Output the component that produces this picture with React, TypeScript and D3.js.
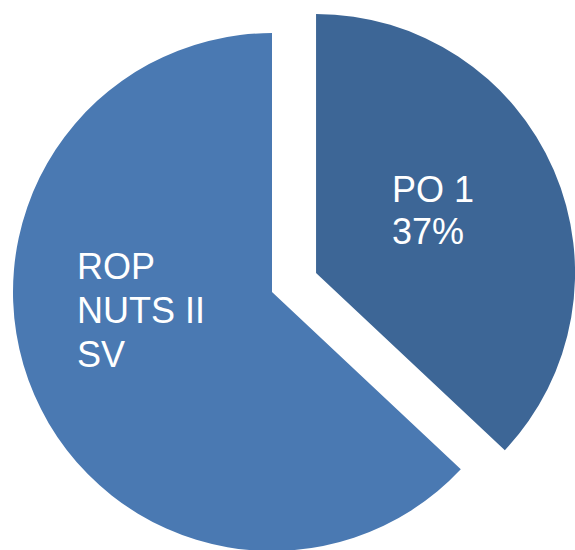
import React from "react";
import * as d3 from "d3";

const categories = ["PO 1", "ROP NUTS II SV"];
const values = [37, 63];
const labelLines = [["PO 1", "37%"], ["ROP", "NUTS II", "SV"]];
const colors = ["#3D6696", "#4A79B2"];

export default function App() {
  const W = 575, H = 550;
  const cx = 272, cy = 292, r = 259, explode = 48;
  const pie = d3.pie<number>().sort(null).value((d) => d)(values);
  const arc = d3.arc<d3.PieArcDatum<number>>().innerRadius(0).outerRadius(r);
  const labelPos = [
    { x: 392, y: 202, dy: 41.5 },
    { x: 77, y: 279, dy: 44 },
  ];
  return (
    <svg width={W} height={H} style={{ position: "absolute", left: 0, top: 0 }}>
      {pie.map((p, i) => {
        const mid = (p.startAngle + p.endAngle) / 2;
        const off = i === 0 ? explode : 0;
        const tx = cx + Math.sin(mid) * off;
        const ty = cy - Math.cos(mid) * off;
        return (
          <g key={categories[i]} transform={`translate(${tx},${ty})`}>
            <path d={arc(p) || ""} fill={colors[i]} />
          </g>
        );
      })}
      {labelLines.map((lines, i) => (
        <text
          key={i}
          fill="#fff"
          fontFamily="Liberation Sans, Arial, sans-serif"
          fontSize={36}
        >
          {lines.map((l, j) => (
            <tspan key={j} x={labelPos[i].x} y={labelPos[i].y + j * labelPos[i].dy}>
              {l}
            </tspan>
          ))}
        </text>
      ))}
    </svg>
  );
}
